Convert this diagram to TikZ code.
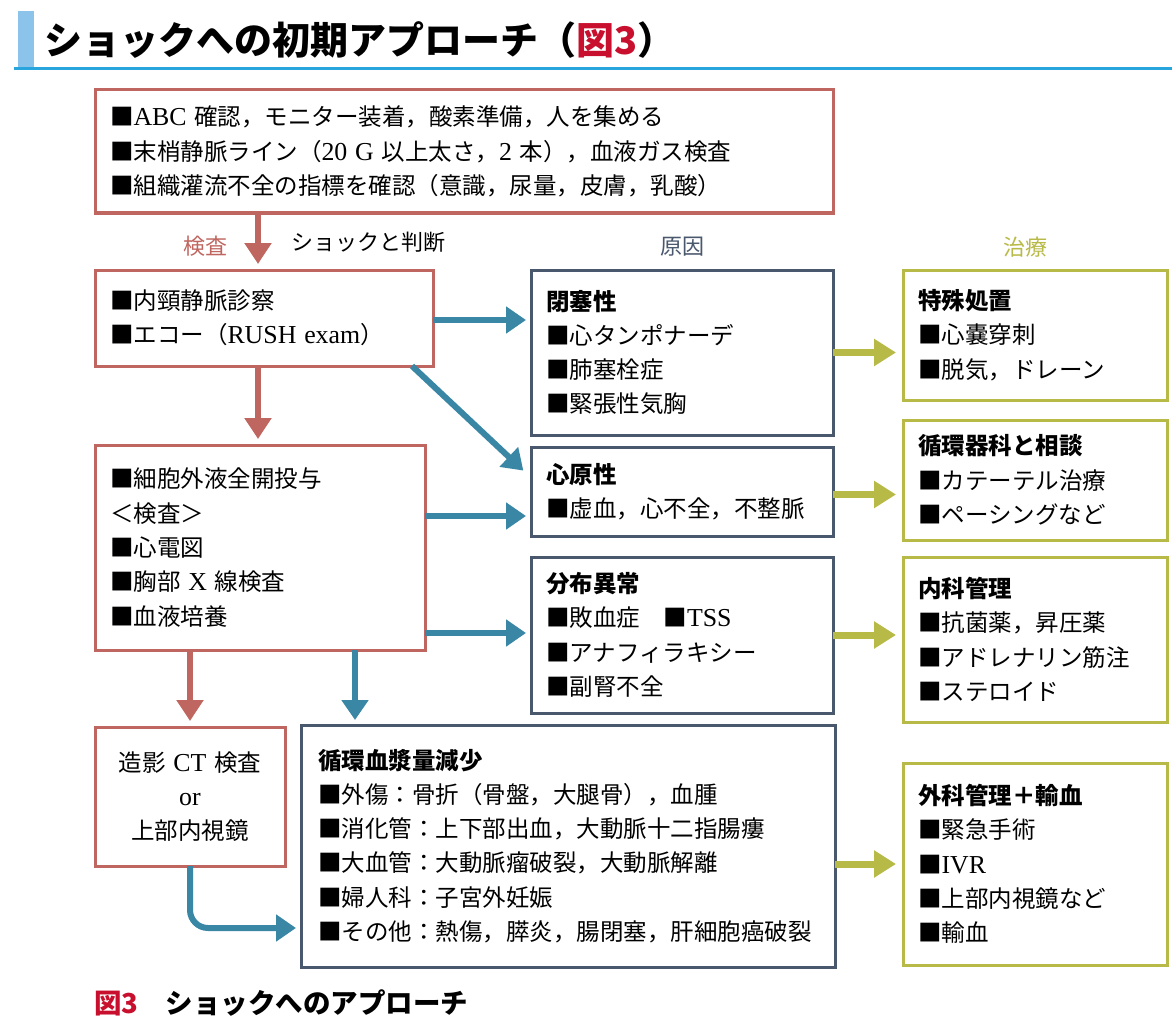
\documentclass[tikz,border=0pt]{standalone}
\usepackage{fontspec}
\setmainfont{Noto Sans CJK JP}
\newfontfamily\lat{Liberation Serif}[Scale=1.1]
\usetikzlibrary{arrows.meta,calc}
\definecolor{cred}{RGB}{192,102,96}
\definecolor{cslate}{RGB}{74,88,110}
\definecolor{cteal}{RGB}{58,134,165}
\definecolor{colive}{RGB}{184,186,72}
\definecolor{cfig}{RGB}{200,16,46}
\definecolor{cbar}{RGB}{140,195,235}
\definecolor{cline}{RGB}{40,165,220}
\newcommand\myBody{\fontsize{23.5pt}{34.3pt}\selectfont}
\newcommand\myLabel{\fontsize{22pt}{26pt}\selectfont}
\begin{document}
\begin{tikzpicture}[x=1pt,y=-1pt,
  box/.style={draw, line width=3pt, inner xsep=15pt, inner ysep=0pt, outer sep=0pt,
    anchor=north west, align=left, font=\myBody},
  redbox/.style={box, draw=cred},
  slatebox/.style={box, draw=cslate},
  olivebox/.style={box, draw=colive},
  rarr/.style={draw=cred, line width=6pt, -{Triangle[width=26pt,length=21pt]}, shorten >=6pt},
  barr/.style={draw=cteal, line width=6pt, -{Triangle[width=26pt,length=20pt]}, shorten >=5pt},
  oarr/.style={draw=colive, line width=7pt, -{Triangle[width=26pt,length=22pt]}, shorten >=7pt},
  hd/.style={font=\myLabel}
]
\useasboundingbox (0,0) rectangle (1172,1027);
\fill[white] (0,0) rectangle (1172,1027);
% title
\fill[cbar] (18,11) rectangle (34,67);
\draw[cline, line width=3pt] (14,68.5) -- (1172,68.5);
\node[anchor=west, font=\fontsize{38pt}{44pt}\selectfont\bfseries, inner sep=0pt] (title) at (44,40)
  {ショックへの初期アプローチ（\textcolor{cfig}{図3}）};

% boxes
\node[redbox, text width=708pt, minimum height=123pt] (b1) at (95,90)
  {■{\lat ABC} 確認，モニター装着，酸素準備，人を集める\\
   ■末梢静脈ライン（{\lat 20 G} 以上太さ，{\lat 2} 本），血液ガス検査\\
   ■組織灌流不全の指標を確認（意識，尿量，皮膚，乳酸）};

\node[redbox, text width=308pt, minimum height=96pt] (b2) at (95,270)
  {■内頸静脈診察\\
   ■エコー（{\lat RUSH exam}）};

\node[redbox, text width=300pt, minimum height=205pt] (b3) at (95,445)
  {■細胞外液全開投与\\
   ＜検査＞\\
   ■心電図\\
   ■胸部 {\lat X} 線検査\\
   ■血液培養};

\node[redbox, text width=160pt, minimum height=139pt, align=center] (ct) at (95,727)
  {造影 {\lat CT} 検査\\
   {\lat or}\\
   上部内視鏡};

\node[slatebox, text width=272pt, minimum height=165pt] (c1) at (531,270)
  {\textbf{閉塞性}\\
   ■心タンポナーデ\\
   ■肺塞栓症\\
   ■緊張性気胸};

\node[slatebox, text width=272pt, minimum height=89pt] (c2) at (531,447)
  {\textbf{心原性}\\
   ■虚血，心不全，不整脈};

\node[slatebox, text width=272pt, minimum height=156pt] (c3) at (531,557)
  {\textbf{分布異常}\\
   ■敗血症\quad ■{\lat TSS}\\
   ■アナフィラキシー\\
   ■副腎不全};

\node[slatebox, inner xsep=17pt, text width=500pt, minimum height=242pt] (hv) at (301,725)
  {\textbf{循環血漿量減少}\\
   ■外傷：骨折（骨盤，大腿骨），血腫\\
   ■消化管：上下部出血，大動脈十二指腸瘻\\
   ■大血管：大動脈瘤破裂，大動脈解離\\
   ■婦人科：子宮外妊娠\\
   ■その他：熱傷，膵炎，腸閉塞，肝細胞癌破裂};

\node[olivebox, text width=234pt, minimum height=130pt] (t1) at (903,270)
  {\textbf{特殊処置}\\
   ■心嚢穿刺\\
   ■脱気，ドレーン};

\node[olivebox, text width=234pt, minimum height=120pt] (t2) at (903,420)
  {\textbf{循環器科と相談}\\
   ■カテーテル治療\\
   ■ペーシングなど};

\node[olivebox, text width=234pt, minimum height=165pt] (t3) at (903,557)
  {\textbf{内科管理}\\
   ■抗菌薬，昇圧薬\\
   ■アドレナリン筋注\\
   ■ステロイド};

\node[olivebox, text width=234pt, minimum height=202pt] (t4) at (903,763)
  {\textbf{外科管理＋輸血}\\
   ■緊急手術\\
   ■{\lat IVR}\\
   ■上部内視鏡など\\
   ■輸血};

% labels
\node[hd, text=cred] (lk) at (205,246) {検査};
\node[hd, anchor=west] (ls) at (288,242) {ショックと判断};
\node[hd, text=cslate] (lg) at (682,247) {原因};
\node[hd, text=colive] (lc) at (1025,247) {治療};

% caption
\node[anchor=west, inner sep=0pt, font=\fontsize{27.5pt}{31pt}\selectfont\bfseries] (cap) at (94,1003)
  {\textcolor{cfig}{図3}　ショックへのアプローチ};

% helper coordinates
\coordinate (hvin) at ([xshift=54pt]hv.north west);
\coordinate (hvct) at ([yshift=-203pt]hv.north west);
\coordinate (c2in) at ([xshift=-4pt,yshift=-27pt]c2.north west);
\coordinate (b2out) at ([xshift=-21pt]b2.south east);

% red arrows
\draw[rarr] ([xshift=163pt]b1.south west) -- ([xshift=163pt]b2.north west);
\draw[rarr] ([xshift=163pt]b2.south west) -- ([xshift=163pt]b3.north west);
\draw[rarr] (b3.south -| ct.north) -- (ct.north);

% blue arrows
\draw[barr] ([yshift=-2pt]b2.east) -- ([yshift=-2pt]b2.east -| c1.west);
\draw[barr] (b2out) -- (c2in);
\draw[barr] ([yshift=-71pt]b3.north east) -- ([yshift=-71pt]b3.north east -| c2.west);
\draw[barr] ([yshift=-188pt]b3.north east) -- ([yshift=-188pt]b3.north east -| c3.west);
\draw[barr] (b3.south -| hvin) -- (hvin);
\draw[barr, rounded corners=18pt] (ct.south) -- (ct.south |- hvct) -- (hvct);

% olive arrows
\draw[oarr] (c1.east) -- (c1.east -| t1.west);
\draw[oarr] ([yshift=-3pt]c2.east) -- ([yshift=-3pt]c2.east -| t2.west);
\draw[oarr] (c3.east) -- (c3.east -| t3.west);
\draw[oarr] (t4.west -| hv.east) -- (t4.west);
\end{tikzpicture}
\end{document}
